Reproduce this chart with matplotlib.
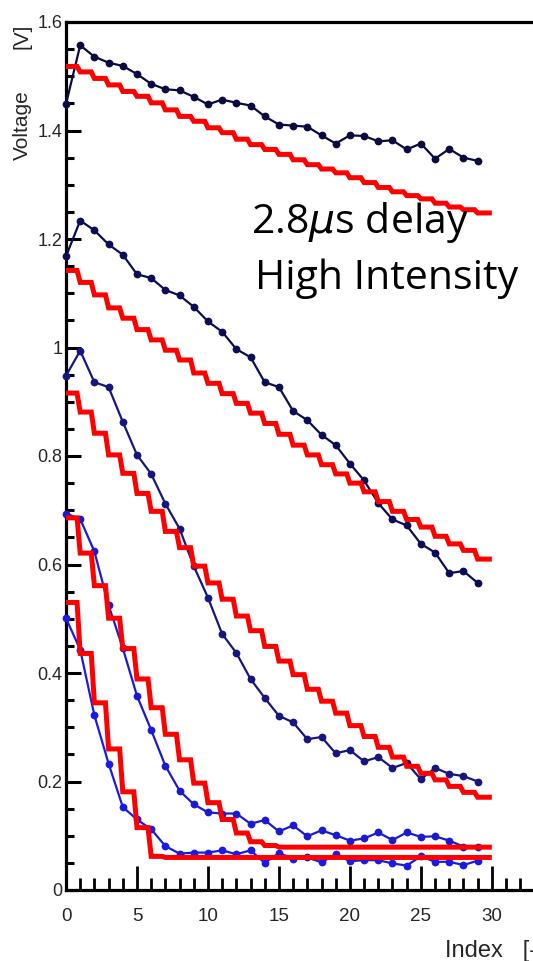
import numpy as np
import matplotlib
matplotlib.use("Agg")
import matplotlib.pyplot as plt
from matplotlib.ticker import MultipleLocator

plt.rcParams['font.family'] = ['Liberation Sans', 'DejaVu Sans']

# ---------------- data ----------------
index = list(range(30))

meas_1 = [1.449, 1.557, 1.536, 1.525, 1.519, 1.504, 1.486, 1.476, 1.474, 1.462,
          1.448, 1.457, 1.451, 1.446, 1.426, 1.411, 1.409, 1.407, 1.391, 1.376,
          1.391, 1.390, 1.380, 1.382, 1.365, 1.376, 1.348, 1.366, 1.350, 1.344]
meas_2 = [1.168, 1.234, 1.216, 1.190, 1.171, 1.135, 1.128, 1.106, 1.096, 1.075,
          1.048, 1.029, 0.997, 0.982, 0.936, 0.927, 0.883, 0.866, 0.839, 0.820,
          0.786, 0.755, 0.713, 0.683, 0.672, 0.638, 0.622, 0.584, 0.588, 0.566]
meas_3 = [0.948, 0.994, 0.936, 0.927, 0.863, 0.802, 0.767, 0.712, 0.666, 0.597,
          0.539, 0.472, 0.437, 0.389, 0.354, 0.321, 0.309, 0.278, 0.282, 0.252,
          0.258, 0.237, 0.245, 0.225, 0.234, 0.204, 0.225, 0.214, 0.210, 0.200]
meas_4 = [0.694, 0.684, 0.624, 0.525, 0.446, 0.358, 0.295, 0.229, 0.183, 0.158,
          0.143, 0.141, 0.141, 0.122, 0.129, 0.108, 0.119, 0.099, 0.110, 0.101,
          0.091, 0.095, 0.106, 0.092, 0.106, 0.098, 0.099, 0.091, 0.080, 0.080]
meas_5 = [0.501, 0.443, 0.322, 0.233, 0.153, 0.130, 0.112, 0.081, 0.067, 0.069,
          0.069, 0.073, 0.066, 0.073, 0.050, 0.068, 0.058, 0.060, 0.051, 0.066,
          0.053, 0.055, 0.055, 0.049, 0.045, 0.062, 0.052, 0.052, 0.046, 0.054]

model_1 = [1.518, 1.508, 1.496, 1.484, 1.472, 1.463, 1.451, 1.438, 1.426, 1.417,
           1.405, 1.396, 1.384, 1.374, 1.365, 1.356, 1.346, 1.337, 1.329, 1.322,
           1.313, 1.304, 1.295, 1.287, 1.280, 1.274, 1.266, 1.259, 1.254, 1.248]
model_2 = [1.142, 1.120, 1.097, 1.073, 1.054, 1.033, 1.014, 0.995, 0.977, 0.953,
           0.934, 0.915, 0.897, 0.879, 0.860, 0.840, 0.820, 0.802, 0.784, 0.767,
           0.750, 0.734, 0.716, 0.698, 0.683, 0.669, 0.652, 0.638, 0.626, 0.610]
model_3 = [0.916, 0.881, 0.842, 0.802, 0.768, 0.731, 0.698, 0.661, 0.631, 0.597,
           0.566, 0.536, 0.505, 0.478, 0.449, 0.422, 0.397, 0.370, 0.348, 0.326,
           0.303, 0.283, 0.263, 0.245, 0.228, 0.215, 0.203, 0.191, 0.180, 0.171]
model_4 = [0.686, 0.621, 0.561, 0.501, 0.445, 0.389, 0.336, 0.287, 0.240, 0.197,
           0.161, 0.130, 0.105, 0.089, 0.082, 0.079, 0.079, 0.079, 0.079, 0.079,
           0.079, 0.079, 0.079, 0.079, 0.079, 0.079, 0.079, 0.079, 0.079, 0.079]
model_5 = [0.530, 0.436, 0.345, 0.260, 0.181, 0.115, 0.062, 0.060, 0.060, 0.060,
           0.060, 0.060, 0.060, 0.060, 0.060, 0.060, 0.060, 0.060, 0.060, 0.060,
           0.060, 0.060, 0.060, 0.060, 0.060, 0.060, 0.060, 0.060, 0.060, 0.060]

y_ticks = [0, 0.2, 0.4, 0.6, 0.8, 1.0, 1.2, 1.4, 1.6]
y_tick_labels = ['0', '0.2', '0.4', '0.6', '0.8', '1', '1.2', '1.4', '1.6']
x_ticks = [0, 5, 10, 15, 20, 25, 30]
x_tick_labels = ['0', '5', '10', '15', '20', '25', '30']

meas_series = [meas_1, meas_2, meas_3, meas_4, meas_5]
model_series = [model_1, model_2, model_3, model_4, model_5]
meas_colors = ['#0b0b42', '#0d0d55', '#16167e', '#1a1ad2', '#1a1ae6']

y_label_name = 'Voltage'
y_label_unit = '[V]'
x_label_text = 'Index   [-]'
annot_1 = r'2.8$\mu$s delay'
annot_2 = 'High Intensity'

# ---------------- figure ----------------
W, H = 533, 961
fig = plt.figure(figsize=(W / 100, H / 100), dpi=100)
ax = fig.add_axes([66 / W, 71 / H, 467 / W, 868 / H])


def step_path(vals, frac=0.78):
    xs, ys = [], []
    n = len(vals)
    for i, v in enumerate(vals):
        xs.append(index[i])
        ys.append(v)
        end = index[i] + (1.0 if i == n - 1 else frac)
        xs.append(end)
        ys.append(v)
    return xs, ys


for vals, col in zip(meas_series, meas_colors):
    ax.plot(index, vals, color=col, lw=1.6, marker='o', ms=5.6,
            markeredgewidth=0, zorder=3, clip_on=False)

for vals in model_series:
    xs, ys = step_path(vals)
    ax.plot(xs, ys, color='#ff0000', lw=3.6, solid_joinstyle='miter',
            solid_capstyle='butt', zorder=4)

ax.set_xlim(0, 32.9)
ax.set_ylim(0, 1.6)

ax.set_xticks(x_ticks)
ax.set_xticklabels(x_tick_labels)
ax.xaxis.set_minor_locator(MultipleLocator(1))
ax.set_yticks(y_ticks)
ax.set_yticklabels(y_tick_labels)
ax.yaxis.set_minor_locator(MultipleLocator(0.05))

ax.tick_params(axis='x', which='major', direction='in', length=17, width=2.0,
               pad=13, labelsize=13.5, colors='black')
ax.tick_params(axis='x', which='minor', direction='in', length=8.5, width=2.0)
ax.tick_params(axis='y', which='major', direction='in', length=11, width=2.2,
               pad=2.5, labelsize=13)
ax.tick_params(axis='y', which='minor', direction='in', length=5.5, width=2.2)
for lbl in ax.get_xticklabels() + ax.get_yticklabels():
    lbl.set_color('#262626')

for s in ['left', 'bottom', 'top']:
    ax.spines[s].set_linewidth(2.3)
    ax.spines[s].set_color('black')
ax.spines['right'].set_visible(False)

fig.text(22 / W, 1 - 125 / H, y_label_name, rotation=90, ha='center',
         va='center', fontsize=15, color='#262626')
fig.text(22 / W, 1 - 36 / H, y_label_unit, rotation=90, ha='center',
         va='center', fontsize=15, color='#262626')
fig.text(445 / W, 1 - 957 / H, x_label_text, ha='left', va='baseline',
         fontsize=17, color='#262626')

fig.text(251 / W, 1 - 233 / H, annot_1, ha='left', va='baseline',
         fontsize=29.5, family=['Open Sans', 'DejaVu Sans'], color='black', zorder=10)
fig.text(255 / W, 1 - 289 / H, annot_2, ha='left', va='baseline',
         fontsize=29.5, family=['Open Sans', 'DejaVu Sans'], color='black', zorder=10)

fig.savefig('out.png', dpi=100)
